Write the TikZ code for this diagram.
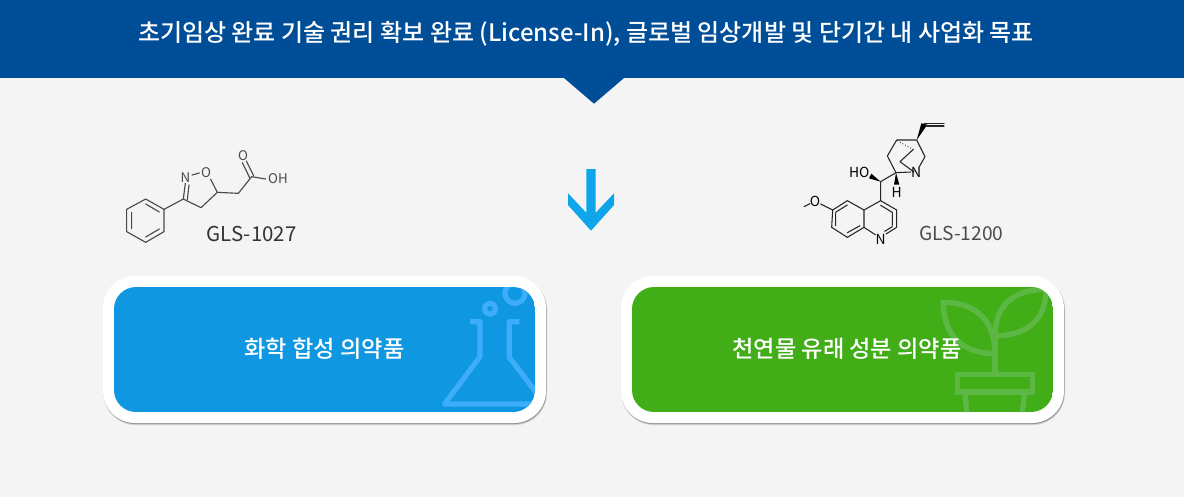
\documentclass[tikz,border=0pt]{standalone}
\usepackage{fontspec}
\setmainfont{Noto Sans CJK KR}
\newfontfamily\medfont{Noto Sans CJK KR Medium}
\definecolor{bgc}{HTML}{F4F4F4}
\definecolor{headc}{HTML}{004D98}
\definecolor{arrowc}{HTML}{0EA5EA}
\definecolor{bluec}{HTML}{1097E2}
\definecolor{greenc}{HTML}{41AD17}
\definecolor{flaskc}{HTML}{3DADF9}
\definecolor{plantc}{HTML}{5CB744}
\definecolor{molc}{HTML}{4A4A4A}
\tikzset{
  x=0.75pt,y=-0.75pt,
  headtext/.style={text=white,font=\medfont\fontsize{18}{21}\selectfont,inner sep=0pt},
  cardtext/.style={text=white,font=\medfont\fontsize{17.4}{20}\selectfont,inner sep=0pt},
  codetext/.style n args={2}{text=#1,font=\fontsize{#2}{18}\selectfont,inner sep=0pt},
  atom/.style={text=molc,font=\fontsize{10}{11}\selectfont,inner sep=0pt},
  atomk/.style={text=black,font=\fontsize{10.4}{11}\selectfont,inner sep=0pt},
  bond/.style={draw=molc,line width=0.85pt,line cap=round,line join=round},
  bondk/.style={draw=black!85,line width=0.8pt,line cap=round,line join=round},
  iconflask/.style={draw=flaskc,line width=3.9pt,line join=round,line cap=butt},
  iconplant/.style={draw=plantc,line width=4.1pt,line join=miter,line cap=butt},
}
\begin{document}
\begin{tikzpicture}
\useasboundingbox (0,0) rectangle (1184,497);
\fill[bgc] (0,0) rectangle (1184,497);
% banner
\fill[headc] (0,0) rectangle (1184,78);
\fill[headc] (564,78) -- (624,78) -- (594,103.7) -- cycle;
\node[headtext] (headline) at (586,34) {초기임상 완료 기술 권리 확보 완료 (License-In), 글로벌 임상개발 및 단기간 내 사업화 목표};
% arrow
\fill[arrowc] (586.3,169) -- (595.7,169) -- (595.7,212.7) -- (614,193.3) -- (614,205) -- (591,230.7) -- (568,205) -- (568,193.3) -- (586.3,212.7) -- cycle;
% cards
\fill[black!18] (103.5,277.5) [rounded corners=24pt] rectangle (547,425);
\fill[black!18] (621.5,277.5) [rounded corners=24pt] rectangle (1065,425);
\fill[black!42] (103.5,277) [rounded corners=24pt] rectangle (546.5,424);
\fill[black!42] (621.5,277) [rounded corners=24pt] rectangle (1064.5,424);
\fill[white] (103,276) [rounded corners=24pt] rectangle (546,423);
\fill[white] (621,276) [rounded corners=24pt] rectangle (1064,423);
\begin{scope}
\clip[rounded corners=16.5pt] (114,287) rectangle (535,412);
\fill[bluec] (114,287) rectangle (535,412);
\draw[iconflask] (470,321.7) -- (480,321.7) -- (480,356.7) -- (444.5,404) -- (545,404);
\draw[iconflask] (519.3,321.7) -- (509.3,321.7) -- (509.3,357.3) -- (545,404);
\draw[iconflask] (490,308.7) circle (5.6);
\draw[iconflask] (515,293.3) circle (10);
\end{scope}
\begin{scope}
\clip[rounded corners=16.5pt] (632,287) rectangle (1053,412);
\fill[greenc] (632,287) rectangle (1053,412);
\draw[iconplant] (995,374) -- (995,330);
\draw[iconplant] (943.3,302.3) .. controls (977,302.3) and (995,322) .. (995,353.5) .. controls (962,353.5) and (943.3,335) .. (943.3,302.3) -- cycle;
\draw[iconplant] (1046,289.3) .. controls (1012,289.3) and (995,307) .. (995,335.7) .. controls (1027,335.7) and (1046,320) .. (1046,289.3);
\draw[iconplant] (957.5,374.5) rectangle (1032.5,392);
\draw[iconplant] (965,392) -- (967,414);
\draw[iconplant] (1025,392) -- (1022,414);
\end{scope}
\node[cardtext] (chemlabel) at (324.5,348.5) {화학 합성 의약품};
\node[cardtext] (natlabel) at (847,348.5) {천연물 유래 성분 의약품};
\node[codetext={black!80}{15.35},anchor=west] (gls1027) at (206.5,234) {GLS-1027};
\node[codetext={black!70}{14.4},anchor=west] (gls1200) at (919,233.5) {GLS-1200};
% molecule 1
\begin{scope}[shift={(100,130)},x=0.25pt,y=-0.25pt]
\draw[bond] (137,207) -- (192,238) -- (192,305) -- (137,337) -- (80,305) -- (80,238) -- cycle;
\draw[bond] (137,222) -- (178,246) (178,297) -- (137,321) (95,296) -- (95,247);
\draw[bond] (192,238) -- (250,207) -- (303,233) -- (352,187) -- (415,190) -- (455,140) -- (497,147);
\draw[bond] (250,207) -- (256,160) (262,209) -- (267,165);
\draw[bond] (276,135) -- (298,129);
\draw[bond] (352,187) -- (332,148);
\draw[bond] (449,143) -- (427,98) (461,137) -- (439,93);
\node[atom] (n1) at (256,142) {N};
\node[atom] (o1) at (318,127) {O};
\node[atom] (o2) at (429,78) {O};
\node[atom] (oh1) at (534,145) {OH};
\end{scope}
% molecule 2
\begin{scope}[shift={(790,110)},x=0.25pt,y=-0.25pt]
\draw[bondk] (42,290) -- (60,281) (92,282) -- (128,300);
\draw[bondk] (128,300) -- (172,272) -- (222,300) -- (222,352) -- (172,382) -- (125,352) -- cycle;
\draw[bondk] (138,306) -- (172,285) (210,347) -- (172,368) (137,347) -- (137,308);
\draw[bondk] (222,300) -- (272,272) -- (320,300) -- (320,352) -- (288,372) (222,352) -- (256,374);
\draw[bondk] (272,286) -- (307,307) (307,307) -- (307,346) (284,364) -- (307,350);
\draw[bondk] (272,272) -- (272,215) -- (318,188) -- (292,138) -- (320,90) -- (380,90) -- (405,140) -- (388,170);
\draw[bondk] (318,188) -- (362,186);
\draw[bondk] (330,155) -- (372,186) (330,155) -- (370,118);
\fill[black] (272,215) -- (237,205) -- (244,191) -- cycle;
\fill[black] (318,188) -- (312,224) -- (328,224) -- cycle;
\fill[black] (380,90) -- (394,40) -- (412,44) -- cycle;
\draw[bondk] (402,40) -- (462,40) (410,48) -- (462,48);
\draw[black!85,line width=0.6pt,dash pattern=on 0.7pt off 1.5pt] (322,92) -- (372,120);
\node[atomk] (nq) at (272,387) {N};
\node[atomk] (ome) at (75,273) {O};
\node[atomk] (ho) at (208,187) {HO};
\node[atomk] (hh) at (320,246) {H};
\node[atomk] (nb) at (378,188) {N};
\end{scope}
\end{tikzpicture}
\end{document}
